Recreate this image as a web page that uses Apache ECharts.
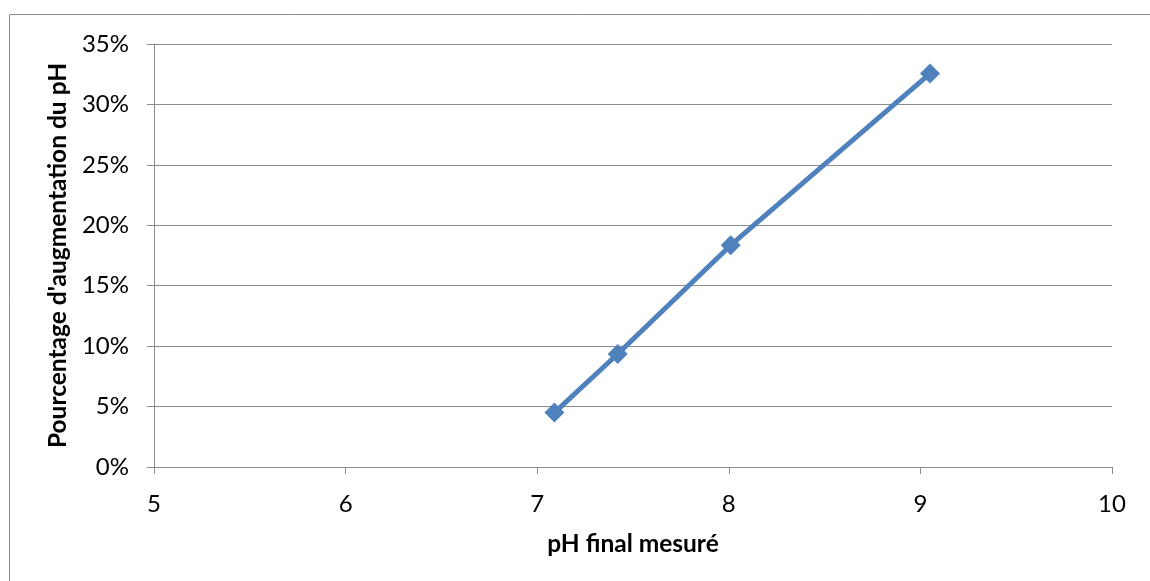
<!DOCTYPE html>
<html>
<head>
<meta charset="utf-8">
<script src="https://cdn.jsdelivr.net/npm/echarts@6/dist/echarts.min.js"></script>
<style>
  html, body { margin: 0; padding: 0; background: #fff; }
  #chart { width: 1150px; height: 581px; }
</style>
</head>
<body>
<div id="chart"></div>
<script>
// pH final mesuré
var phFinal = [7.09, 7.42, 8.01, 9.05]
// pourcentage d'augmentation du pH (%)
var augmentation = [4.5, 9.35, 18.35, 32.55]
var xTicks = [5, 6, 7, 8, 9, 10]
var yTicks = [0, 5, 10, 15, 20, 25, 30, 35]

var points = phFinal.map(function (x, i) { return [x, augmentation[i]] })

var chart = echarts.init(document.getElementById('chart'))
var font = 'Lato, "Open Sans", sans-serif'

chart.setOption({
  animation: false,
  graphic: [{
    type: 'rect',
    shape: { x: 9.5, y: 14.5, width: 1200, height: 700 },
    style: { fill: 'none', stroke: '#8c8c8c', lineWidth: 1 }
  }],
  grid: { left: 154, right: 38, top: 44, bottom: 114 },
  xAxis: {
    type: 'value',
    min: xTicks[0],
    max: xTicks[xTicks.length - 1],
    interval: 1,
    name: 'pH final mesuré',
    nameLocation: 'middle',
    nameGap: 65,
    nameTextStyle: { fontFamily: font, fontSize: 24.5, fontWeight: 'bold', color: '#000' },
    axisLine: { show: true, lineStyle: { color: '#8c8c8c', width: 1 } },
    axisTick: { show: true, length: 7, lineStyle: { color: '#8c8c8c' } },
    axisLabel: { fontFamily: font, fontSize: 24, color: '#000', margin: 25 },
    splitLine: { show: false }
  },
  yAxis: {
    type: 'value',
    min: yTicks[0],
    max: yTicks[yTicks.length - 1],
    interval: 5,
    name: "Pourcentage d'augmentation du pH",
    nameLocation: 'middle',
    nameGap: 76,
    nameTextStyle: { fontFamily: font, fontSize: 24.5, fontWeight: 'bold', color: '#000' },
    axisLine: { show: true, lineStyle: { color: '#8c8c8c', width: 1 } },
    axisTick: { show: true, length: 7, lineStyle: { color: '#8c8c8c' } },
    axisLabel: { fontFamily: font, fontSize: 24, color: '#000', margin: 25, formatter: '{value}%' },
    splitLine: { show: true, lineStyle: { color: '#8c8c8c', width: 1 } }
  },
  series: [{
    type: 'line',
    data: points,
    symbol: 'diamond',
    symbolSize: 20,
    lineStyle: { color: '#4f81bd', width: 5 },
    itemStyle: { color: '#4f81bd' }
  }]
})
</script>
</body>
</html>
